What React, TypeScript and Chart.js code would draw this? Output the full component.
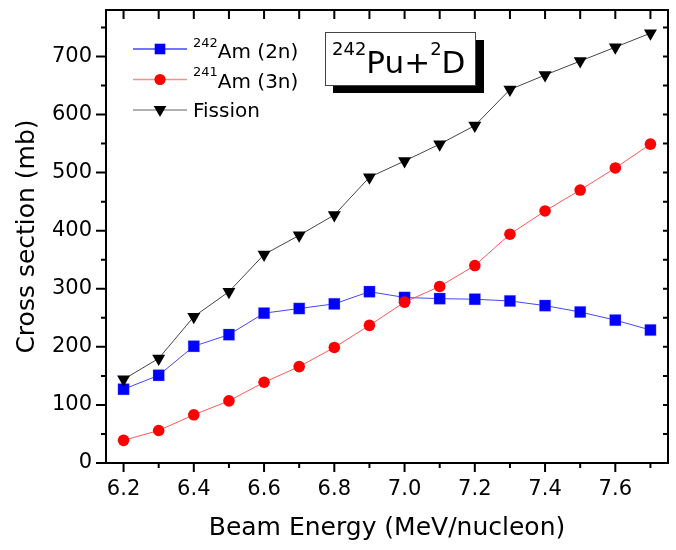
import React, { useEffect, useRef } from 'react';
import { Chart, registerables } from 'chart.js';

Chart.register(...registerables);

const energies = [6.2, 6.3, 6.4, 6.5, 6.6, 6.7, 6.8, 6.9, 7.0, 7.1, 7.2, 7.3, 7.4, 7.5, 7.6, 7.7];
const am242_2n = [127, 151, 201, 221, 258, 266, 274, 295, 285, 283, 282, 279, 271, 260, 246, 229];
const am241_3n = [39, 56, 83, 107, 139, 166, 199, 237, 277, 304, 340, 394, 434, 470, 508, 549];
const fission = [144, 180, 252, 295, 359, 392, 427, 492, 520, 549, 581, 643, 668, 692, 716, 740];

const xTickLabels = [6.2, 6.4, 6.6, 6.8, 7.0, 7.2, 7.4, 7.6];
const xMinorTicks = [6.3, 6.5, 6.7, 6.9, 7.1, 7.3, 7.5, 7.7];
const yTickLabels = [0, 100, 200, 300, 400, 500, 600, 700];
const yMinorTicks = [50, 150, 250, 350, 450, 550, 650, 750];

const FONT = '"DejaVu Sans", sans-serif';

type Part = { t: string; sup?: boolean };

function drawRich(ctx: CanvasRenderingContext2D, x: number, baseline: number, parts: Part[], size: number, supSize: number, supRise: number) {
  let cx = x;
  ctx.textBaseline = 'alphabetic';
  ctx.textAlign = 'left';
  for (const p of parts) {
    ctx.font = `${p.sup ? supSize : size}px ${FONT}`;
    ctx.fillText(p.t, cx, p.sup ? baseline - supRise : baseline);
    cx += ctx.measureText(p.t).width;
  }
}

const decor = {
  id: 'decor',
  afterDatasetsDraw(chart: any) {
    const { ctx, chartArea: a, scales } = chart;
    const x = scales.x;
    const y = scales.y;
    ctx.save();
    ctx.strokeStyle = '#000';
    ctx.lineWidth = 2;
    ctx.strokeRect(a.left, a.top, a.right - a.left, a.bottom - a.top);
    ctx.beginPath();
    for (const v of xTickLabels) {
      const px = x.getPixelForValue(v);
      ctx.moveTo(px, a.bottom); ctx.lineTo(px, a.bottom + 9);
      ctx.moveTo(px, a.top); ctx.lineTo(px, a.top + 9);
    }
    for (const v of xMinorTicks) {
      const px = x.getPixelForValue(v);
      ctx.moveTo(px, a.bottom); ctx.lineTo(px, a.bottom + 5);
      ctx.moveTo(px, a.top); ctx.lineTo(px, a.top + 9);
    }
    for (const v of yTickLabels) {
      const py = y.getPixelForValue(v);
      ctx.moveTo(a.left, py); ctx.lineTo(a.left - 10, py);
      if (v > 0) { ctx.moveTo(a.right, py); ctx.lineTo(a.right - 5, py); }
    }
    for (const v of yMinorTicks) {
      const py = y.getPixelForValue(v);
      ctx.moveTo(a.left, py); ctx.lineTo(a.left - 5, py);
      ctx.moveTo(a.right, py); ctx.lineTo(a.right - 5, py);
    }
    ctx.stroke();

    // axis titles
    ctx.fillStyle = '#000';
    ctx.font = `25px ${FONT}`;
    ctx.textAlign = 'center';
    ctx.textBaseline = 'middle';
    ctx.fillText('Beam Energy (MeV/nucleon)', (a.left + a.right) / 2, 528);
    ctx.save();
    ctx.translate(27, (a.top + a.bottom) / 2);
    ctx.rotate(-Math.PI / 2);
    ctx.fillText('Cross section (mb)', 0, 0);
    ctx.restore();

    // legend
    const rows = [
      { ly: 49, base: 58, line: 'rgba(70,70,255,1)', parts: [{ t: '242', sup: true }, { t: 'Am (2n)' }] as Part[], marker: 'sq' },
      { ly: 79.5, base: 87.5, line: 'rgba(255,140,140,1)', parts: [{ t: '241', sup: true }, { t: 'Am (3n)' }] as Part[], marker: 'ci' },
      { ly: 110, base: 116.5, line: 'rgba(150,150,150,1)', parts: [{ t: 'Fission' }] as Part[], marker: 'tr' },
    ];
    for (const r of rows) {
      ctx.strokeStyle = r.line;
      ctx.lineWidth = 1.5;
      ctx.beginPath();
      ctx.moveTo(133, r.ly); ctx.lineTo(187, r.ly);
      ctx.stroke();
      const mx = 160;
      if (r.marker === 'sq') {
        ctx.fillStyle = '#0000ff';
        ctx.fillRect(mx - 5.3, r.ly - 5.3, 10.6, 10.6);
      } else if (r.marker === 'ci') {
        ctx.fillStyle = '#ff0000';
        ctx.beginPath(); ctx.arc(mx, r.ly, 5.6, 0, Math.PI * 2); ctx.fill();
      } else {
        ctx.fillStyle = '#000';
        ctx.beginPath();
        ctx.moveTo(mx - 6.3, r.ly - 4);
        ctx.lineTo(mx + 6.3, r.ly - 4);
        ctx.lineTo(mx, r.ly + 7);
        ctx.closePath(); ctx.fill();
      }
      ctx.fillStyle = '#000';
      drawRich(ctx, 193, r.base, r.parts, 20, 13, 11.5);
    }

    // title box
    ctx.fillStyle = '#000';
    ctx.fillRect(333, 40, 151, 53);
    ctx.fillStyle = '#fff';
    ctx.fillRect(325, 32, 150, 53);
    ctx.strokeStyle = '#444';
    ctx.lineWidth = 1;
    ctx.strokeRect(325.5, 32.5, 150, 53);
    ctx.fillStyle = '#000';
    drawRich(ctx, 332, 73, [{ t: '242', sup: true }, { t: 'Pu+' }, { t: '2', sup: true }, { t: 'D' }], 31, 18, 18);
    ctx.restore();
  },
};

export default function App() {
  const ref = useRef<HTMLCanvasElement | null>(null);
  useEffect(() => {
    document.body.style.margin = '0';
    const toXY = (vals: number[]) => energies.map((e, i) => ({ x: e, y: vals[i] }));
    const chart = new Chart(ref.current as HTMLCanvasElement, {
      type: 'scatter',
      data: {
        datasets: [
          {
            label: '242Am (2n)',
            data: toXY(am242_2n),
            showLine: true,
            borderColor: 'rgba(50,50,255,0.9)',
            borderWidth: 1,
            pointStyle: 'rect',
            pointRadius: 8,
            pointBackgroundColor: '#0000ff',
            pointBorderColor: 'rgba(120,120,255,0.6)',
            pointBorderWidth: 0.5,
            order: 3,
          },
          {
            label: '241Am (3n)',
            data: toXY(am241_3n),
            showLine: true,
            borderColor: 'rgba(255,70,70,0.9)',
            borderWidth: 1,
            pointStyle: 'circle',
            pointRadius: 5.8,
            pointBackgroundColor: '#ff0000',
            pointBorderColor: '#ff0000',
            pointBorderWidth: 0,
            order: 2,
          },
          {
            label: 'Fission',
            data: toXY(fission),
            showLine: true,
            borderColor: 'rgba(50,50,50,0.9)',
            borderWidth: 1,
            pointStyle: 'triangle',
            pointRotation: 180,
            pointRadius: 7.5,
            pointBackgroundColor: '#000',
            pointBorderColor: '#000',
            pointBorderWidth: 0,
            order: 1,
          },
        ],
      },
      options: {
        animation: false,
        responsive: false,
        events: [],
        layout: { autoPadding: false, padding: { top: 10, right: 8, left: 0, bottom: 0 } },
        plugins: { legend: { display: false }, tooltip: { enabled: false } },
        scales: {
          x: {
            type: 'linear',
            min: 6.15,
            max: 7.75,
            grid: { display: false, drawTicks: false },
            border: { display: false },
            afterBuildTicks: (s: any) => { s.ticks = xTickLabels.map((v) => ({ value: v })); },
            afterFit: (s: any) => { s.height = 87; s.paddingLeft = 0; s.paddingRight = 0; },
            ticks: {
              padding: 14,
              color: '#000',
              font: { family: FONT, size: 21 },
              maxRotation: 0,
              autoSkip: false,
              callback: (v: any) => Number(v).toFixed(1),
            },
          },
          y: {
            type: 'linear',
            min: 0,
            max: 780,
            grid: { display: false, drawTicks: false },
            border: { display: false },
            afterBuildTicks: (s: any) => { s.ticks = yTickLabels.map((v) => ({ value: v })); },
            afterFit: (s: any) => { s.width = 106; s.paddingTop = 0; s.paddingBottom = 0; },
            ticks: {
              padding: 14,
              color: '#000',
              font: { family: FONT, size: 21 },
              autoSkip: false,
              callback: (v: any) => String(v),
            },
          },
        },
      },
      plugins: [decor],
    });
    return () => chart.destroy();
  }, []);
  return (
    <div style={{ width: 676, height: 550 }}>
      <canvas ref={ref} width={676} height={550} style={{ display: 'block' }} />
    </div>
  );
}
